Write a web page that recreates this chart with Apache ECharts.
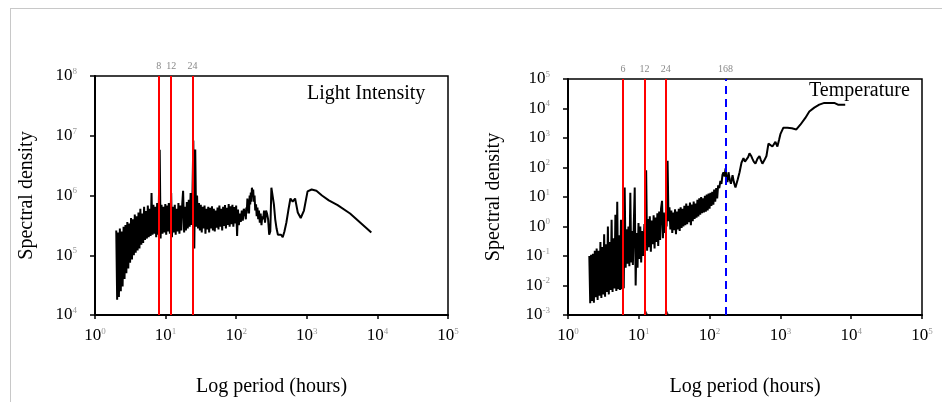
<!DOCTYPE html>
<html><head><meta charset="utf-8">
<script src="https://cdn.jsdelivr.net/npm/echarts@6/dist/echarts.min.js"></script>
<style>html,body{margin:0;padding:0;background:#fff}#c{width:942px;height:402px}</style>
</head><body><div id="c"></div>
<script>
// Shared period grid (hours) for the dense, high-frequency part of both periodograms
const noisePeriods = [
2.00,2.06,2.12,2.18,2.25,2.32,2.39,2.46,2.54,2.62,
2.70,2.78,2.87,2.96,3.05,3.14,3.24,3.34,3.44,3.55,
3.66,3.77,3.89,4.01,4.13,4.26,4.39,4.53,4.67,4.81,
4.96,5.11,5.27,5.43,5.60,5.77,5.95,6.13,6.32,6.52,
6.72,6.93,7.14,7.36,7.59,7.82,8.00,8.25,8.50,8.76,
9.03,9.31,9.60,9.90,10.2,10.5,10.8,11.1,11.5,12.0,
12.3,12.7,13.1,13.5,13.9,14.3,14.8,15.2,15.7,16.2,
16.7,17.2,17.7,18.3,18.8,19.4,20.0,20.6,21.3,21.9,
22.6,23.3,24.0,24.7,25.5,26.3,27.1,27.9,28.8,29.7,
30.6,31.5,32.5,33.5,34.5,35.6,36.7,37.8,39.0,40.2,
41.4,42.7,44.0,45.4,46.8,48.2,49.7,51.2,52.8,54.4,
56.1,57.8,59.6,61.4,63.3,65.3,67.3,69.4,71.5,73.7,
76.0,78.3,80.7,83.2,85.8,88.4,91.1,93.9,96.8,99.8,
103,106,109,113,116,120,124,128,132];

const lightNoise = [
2.6e5,1.8e4,2.4e5,2.0e4,2.8e5,2.5e4,2.5e5,3.0e4,3.0e5,4.0e4,
3.2e5,5.0e4,3.6e5,6.0e4,3.4e5,7.5e4,4.2e5,8.5e4,4.0e5,1.0e5,
4.8e5,1.1e5,4.5e5,1.2e5,5.2e5,1.3e5,6.0e5,1.5e5,5.0e5,1.6e5,
6.5e5,1.8e5,5.5e5,1.9e5,6.8e5,2.0e5,6.0e5,2.1e5,1.1e6,2.2e5,
7.0e5,2.3e5,6.5e5,2.0e5,7.5e5,2.2e5,6.0e5,5.8e6,1.9e5,7.0e5,
2.3e5,6.5e5,2.4e5,7.2e5,2.2e5,6.8e5,2.5e5,7.5e5,2.3e5,1.1e6,
2.0e5,6.5e5,2.4e5,7.0e5,2.2e5,6.0e5,2.5e5,7.5e5,2.3e5,6.8e5,
2.6e5,7.2e5,1.2e6,2.4e5,6.5e5,2.6e5,7.8e5,2.8e5,8.5e5,3.0e5,
1.1e6,3.2e5,1.0e6,8.3e6,1.3e5,5.9e6,3.0e5,1.0e6,2.8e5,7.5e5,
2.6e5,7.0e5,2.4e5,6.5e5,2.8e5,6.8e5,2.3e5,6.0e5,2.7e5,6.5e5,
2.4e5,6.2e5,2.8e5,6.6e5,2.6e5,6.0e5,2.5e5,5.6e5,2.9e5,6.3e5,
2.7e5,6.8e5,3.0e5,6.0e5,2.6e5,6.5e5,3.1e5,6.9e5,2.8e5,6.2e5,
3.2e5,7.2e5,3.0e5,6.6e5,3.3e5,7.0e5,3.0e5,6.4e5,3.4e5,6.8e5,
2.1e5,5.8e5,3.2e5,5.0e5,3.6e5,5.6e5,3.8e5,6.0e5,5.4e5];

const tempNoise = [
1.0e-1,2.5e-3,1.1e-1,3.0e-3,1.2e-1,2.6e-3,1.5e-1,4.0e-3,1.8e-1,3.2e-3,
1.5e-1,4.5e-3,3.0e-1,3.8e-3,2.0e-1,5.0e-3,5.5e-1,4.2e-3,2.5e-1,6.0e-3,
1.0,5.0e-3,3.0e-1,7.0e-3,1.7,6.0e-3,4.0e-1,8.0e-3,2.5,6.5e-3,
6.9,7.5e-3,5.0e-1,7.0e-3,1.7,7.4e-3,6.0e-1,8.0e-3,21,4.0e-2,
8.0e-1,5.5e-2,1.0,4.5e-2,14,6.0e-2,7.0e-1,5.0e-2,1.2,21,
1.0e-2,6.0e-1,4.0e-2,1.3,8.0e-2,1.0,6.0e-2,7.0e-1,1.0e-1,1.2,
4.5e-1,80,1.5e-1,1.8,2.0e-1,2.2,1.4e-1,1.6,2.5e-1,2.4,
1.8e-1,2.0,3.0e-1,2.8,2.2e-1,3.2,3.5e-1,4.0,7.4,4.0e-1,
3.0,6.0e-1,2.5,1.0,170,1.5,4.5,8.0e-1,3.5,6.0e-1,
3.0,7.5e-1,3.8,5.5e-1,3.2,8.0e-1,4.0,7.0e-1,4.5,9.0e-1,
4.0,1.0,5.0,1.1,6.0,1.2,5.0,1.4,6.5,1.1,
5.5,1.5,7.0,1.8,6.0,2.0,8.0,2.2,9.0,2.5,
10,2.8,9.0,3.0,11,3.2,12,3.5,13,4.0,
14,5.0,15,5.5,18,7.0,20,9.0,25];

const lightTailPeriods = [
137,139,141,144,146,149,152,155,158,161,164,167,171,174,178,182,186,191,195,200,
205,210,216,222,228,234,241,248,256,265,273,283,293,304,315,328,342,357,373,390,
410,432,456,482,513,547,586,631,683,745,820,911,1025,1171,1367,1640,2050,2733,4100,8200];
const lightTail = [
4.0e5,6.3e5,5.0e5,8.9e5,5.6e5,7.9e5,5.0e5,1.0e6,7.1e5,1.12e6,7.9e5,1.35e6,1.0e6,1.26e6,7.9e5,1.0e6,5.6e5,7.1e5,4.5e5,6.3e5,
4.0e5,5.6e5,3.5e5,5.0e5,3.2e5,4.5e5,4.0e5,5.6e5,3.5e5,5.6e5,5.0e5,4.0e5,2.2e5,2.5e5,1.35e6,1.26e6,7.1e5,4.0e5,2.8e5,2.2e5,
2.1e5,2.2e5,2.0e5,2.5e5,3.5e5,5.6e5,8.9e5,7.9e5,8.9e5,5.2e5,4.2e5,5.6e5,1.17e6,1.26e6,1.2e6,1.0e6,8.3e5,6.9e5,5.0e5,2.4e5];

const tempTailPeriods = [
137,142,147,152,157,163,168,173,179,185,192,200,211,220,232,240,250,265,282,301,
316,332,350,366,385,403,420,444,475,506,530,557,595,635,678,720,771,851,907,960,
1000,1102,1256,1450,1680,1914,2250,2561,3010,3540,4170,5760,6500,8230];
const tempTail = [
20,35,28,56,69,50,93,45,32,69,40,28,55,32,21,28,40,69,145,209,
158,145,224,302,251,195,158,135,200,245,178,135,178,245,646,562,513,741,513,891,
1350,2240,2240,2140,1950,2820,4790,7940,10700,13500,15500,15500,13500,13500];

const lightMarks = [8, 12, 24];
const tempMarks = [6, 12, 24];
const tempWeekMark = [168];
const tempBaseMarkers = [12.5, 24.7];

const pairs = (ps, vs) => ps.map((p, i) => [p, vs[i]]);
const lightData = pairs(noisePeriods, lightNoise).concat(pairs(lightTailPeriods, lightTail));
const tempData = pairs(noisePeriods, tempNoise).concat(pairs(tempTailPeriods, tempTail));

const SERIF = 'Liberation Serif';
const powLabel = v => '{b|10}{e|' + Math.round(Math.log10(v)) + '}';
const rich = {
  b: {fontSize: 17, fontFamily: SERIF, color: '#000', lineHeight: 18},
  e: {fontSize: 9, fontFamily: SERIF, color: '#999', verticalAlign: 'top', lineHeight: 18, padding: [0, 0, 6, 0]}
};

function xAxis(gi) {
  return {
    type: 'log', logBase: 10, min: 1, max: 1e5, splitNumber: 5, gridIndex: gi,
    name: 'Log period (hours)', nameLocation: 'middle', nameGap: 62,
    nameTextStyle: {fontFamily: SERIF, fontSize: 20, color: '#000'},
    axisLine: {lineStyle: {color: '#000', width: 2}},
    axisTick: {show: true, inside: false, length: 4, lineStyle: {color: '#000', width: 1.5}},
    minorTick: {show: false}, splitLine: {show: false},
    axisLabel: {formatter: powLabel, rich: rich, margin: 12}
  };
}
function yAxis(gi, min, max, n, gap) {
  return {
    type: 'log', logBase: 10, min: min, max: max, splitNumber: n, gridIndex: gi,
    name: 'Spectral density', nameLocation: 'middle', nameGap: gap, nameRotate: 90,
    nameTextStyle: {fontFamily: SERIF, fontSize: 20, color: '#000'},
    axisLine: {lineStyle: {color: '#000', width: 2}},
    axisTick: {show: true, inside: false, length: 5, lineStyle: {color: '#000', width: 1.5}},
    minorTick: {show: false}, splitLine: {show: false},
    axisLabel: {formatter: powLabel, rich: rich, margin: 18}
  };
}
const markLabel = {show: true, position: 'end', formatter: p => String(p.value), color: '#888', fontSize: 10, fontFamily: SERIF, distance: 5};
function vlines(vals, color, type) {
  return vals.map(v => ({xAxis: v, lineStyle: {color: color, width: 2, type: type}}));
}

const chart = echarts.init(document.getElementById('c'), null, {renderer: 'canvas'});
chart.setOption({
  animation: false,
  backgroundColor: '#fff',
  grid: [
    {left: 95, right: 494, top: 76, bottom: 78, show: true, borderColor: '#000', borderWidth: 1.5},
    {left: 568, right: 20, top: 79, bottom: 75, show: true, borderColor: '#000', borderWidth: 1.5}
  ],
  xAxis: [xAxis(0), xAxis(1)],
  yAxis: [yAxis(0, 1e4, 1e8, 4, 58), yAxis(1, 1e-3, 1e5, 8, 64)],
  graphic: [
    {type: 'line', shape: {x1: 10, y1: 8.5, x2: 942, y2: 8.5}, style: {stroke: '#c8c8c8', lineWidth: 1}, silent: true},
    {type: 'line', shape: {x1: 10.5, y1: 8, x2: 10.5, y2: 402}, style: {stroke: '#c8c8c8', lineWidth: 1}, silent: true},
    {type: 'text', left: 307, top: 84, style: {text: 'Light Intensity', font: '20px "Liberation Serif"', fill: '#000'}},
    {type: 'text', left: 809, top: 81, style: {text: 'Temperature', font: '20px "Liberation Serif"', fill: '#000'}}
  ],
  series: [
    {
      type: 'line', xAxisIndex: 0, yAxisIndex: 0, data: lightData, showSymbol: false, symbol: 'none',
      lineStyle: {color: '#000', width: 2}, clip: true,
      markLine: {silent: true, symbol: 'none', animation: false, label: markLabel,
        data: vlines(lightMarks, '#ff0000', 'solid')}
    },
    {
      type: 'line', xAxisIndex: 1, yAxisIndex: 1, data: tempData, showSymbol: false, symbol: 'none',
      lineStyle: {color: '#000', width: 2}, clip: true,
      markLine: {silent: true, symbol: 'none', animation: false, label: markLabel,
        data: vlines(tempMarks, '#ff0000', 'solid').concat(vlines(tempWeekMark, '#0000ff', [8, 5]))}
    },
    {
      type: 'scatter', xAxisIndex: 1, yAxisIndex: 1, symbol: 'triangle', symbolSize: 6, symbolOffset: [0, -2],
      itemStyle: {color: '#000'}, data: tempBaseMarkers.map(p => [p, 1e-3]), clip: false
    }
  ]
});
</script>
</body></html>
